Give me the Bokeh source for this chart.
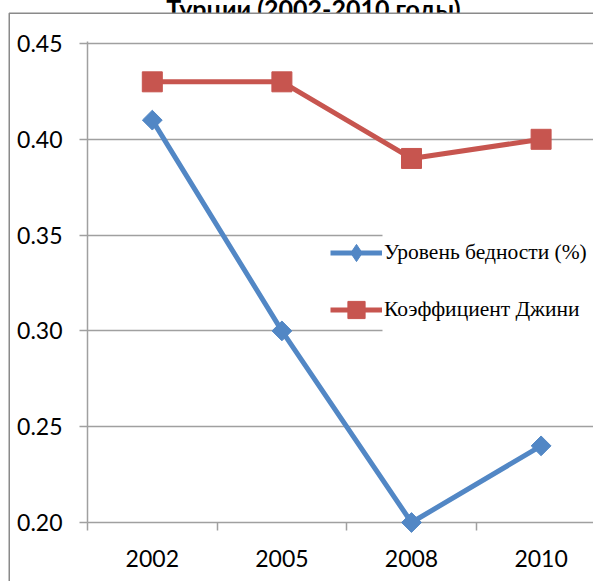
import math
from bokeh.plotting import figure
from bokeh.models import (FixedTicker, Legend, LegendItem, BoxAnnotation,
                          Range1d, ColumnDataSource)
from bokeh.core.properties import value
from bokeh.embed import file_html
from bokeh.resources import INLINE

# ---------------- data ----------------
years = ["2002", "2005", "2008", "2010"]
poverty = [0.41, 0.30, 0.20, 0.24]
gini = [0.43, 0.43, 0.39, 0.40]
y_ticks = [0.20, 0.25, 0.30, 0.35, 0.40, 0.45]
y_tick_labels = ["0.20", "0.25", "0.30", "0.35", "0.40", "0.45"]
series_names = ["Уровень бедности (%)", "Коэффициент Джини"]
title_text = "Турции (2002-2010 годы)"

# ---------------- layout (page pixels) ----------------
W, H = 585, 581
PAGE_X0 = 8            # figure left on the page
FRAME_L = 87           # y axis line (page x)
FRAME_T = 41           # frame top (page y)
Y_TOP = 43             # page y of 0.45
Y_BOT = 522            # page y of 0.20
CAT_W = 129.6          # width of one category
Y0, Y_TOP_VAL = y_ticks[0], y_ticks[-1]
PPU = (Y_BOT - Y_TOP) / (Y_TOP_VAL - Y0)
Y1 = Y_TOP_VAL + (Y_TOP - FRAME_T) / PPU
X_END = (W - (FRAME_L - PAGE_X0)) / CAT_W


def dx(px):
    return (px - FRAME_L) / CAT_W


def dy(py):
    return Y0 + (Y_BOT - py) / PPU


GRAY = "#a0a0a0"
BLUE = "#5287C5"
RED = "#C7554F"
TICK_FONT = "Lato"
LEGEND_FONT = "'Liberation Serif', 'Times New Roman', serif"

p = figure(width=W, height=H, output_backend="svg", toolbar_location=None,
           x_range=Range1d(0, X_END), y_range=Range1d(Y0, Y1),
           min_border_left=FRAME_L - PAGE_X0, min_border_right=0,
           min_border_top=FRAME_T, min_border_bottom=H - Y_BOT)
p.margin = (0, 0, 0, PAGE_X0)
p.background_fill_color = "white"
p.border_fill_color = "white"
p.outline_line_color = None

# grid
p.xgrid.visible = False
p.ygrid.ticker = FixedTicker(ticks=y_ticks)
p.ygrid.grid_line_color = GRAY
p.ygrid.grid_line_width = 1.5

# y axis
yax = p.yaxis[0]
yax.ticker = FixedTicker(ticks=y_ticks)
yax.major_label_overrides = {t: l for t, l in zip(y_ticks, y_tick_labels)}
yax.axis_line_color = GRAY
yax.axis_line_width = 1.5
yax.major_tick_line_color = GRAY
yax.major_tick_line_width = 1.5
yax.major_tick_out = 8
yax.major_tick_in = 0
yax.minor_tick_line_color = None
yax.major_label_standoff = 17
yax.major_label_text_font = TICK_FONT
yax.major_label_text_font_size = "23px"
yax.major_label_text_color = "black"

# x axis: labels at category centres, tick marks at category boundaries
xc = [i + 0.5 for i in range(len(years))]
xax = p.xaxis[0]
xax.ticker = FixedTicker(ticks=xc, minor_ticks=list(range(len(years) + 1)))
xax.major_label_overrides = {c: y for c, y in zip(xc, years)}
xax.axis_line_color = GRAY
xax.axis_line_width = 1.5
xax.major_tick_line_color = None
xax.major_tick_out = 0
xax.major_tick_in = 0
xax.minor_tick_line_color = GRAY
xax.minor_tick_line_width = 1.5
xax.minor_tick_out = 8
xax.minor_tick_in = 0
xax.major_label_standoff = 19
xax.major_label_text_font = TICK_FONT
xax.major_label_text_font_size = "23px"
xax.major_label_text_color = "black"

# title (only its last line is visible, cut at the top edge)
p.text(x=[dx(313)], y=[dy(7)], text=[title_text], text_align="center",
       text_baseline="alphabetic", text_font=value(TICK_FONT),
       text_font_style="bold", text_font_size="25px", text_color="black",
       level="overlay")

# white strip below the title, then the chart-area border (outside the frame)
p.quad(left=[dx(9.5)], right=[dx(800)], top=[dy(13.4)], bottom=[dy(26)],
       fill_color="white", line_color=None, level="overlay")
p.line(x=[dx(8.75), dx(8.75), dx(800)], y=[dy(800), dy(12.75), dy(12.75)],
       line_color="#8a8a8a", line_width=1.5, level="overlay")

# legend area hides the grid lines behind the labels
p.add_layout(BoxAnnotation(left=dx(382), right=dx(800), top=dy(225), bottom=dy(340),
                           fill_color="white", fill_alpha=1, line_color=None))

src_p = ColumnDataSource(dict(x=xc, y=poverty))
src_g = ColumnDataSource(dict(x=xc, y=gini))

lp = p.line("x", "y", source=src_p, line_color=BLUE, line_width=5, level="overlay")
sp = p.scatter("x", "y", source=src_p, marker="square", angle=math.pi / 4, size=14,
               fill_color=BLUE, line_color=BLUE, line_width=1, level="overlay")
lg = p.line("x", "y", source=src_g, line_color=RED, line_width=5, level="overlay")
sg = p.scatter("x", "y", source=src_g, marker="square", size=20,
               fill_color=RED, line_color=RED, line_width=1, level="overlay")
# legend-only marker for the poverty series (diamond, as in the legend)
nan = float("nan")
dummy = p.scatter(x=[nan], y=[nan], marker="diamond", size=10, fill_color=BLUE,
                  line_color=BLUE, line_width=1)

legend = Legend(items=[LegendItem(label=series_names[0], renderers=[lp, dummy]),
                       LegendItem(label=series_names[1], renderers=[lg, sg])],
                location=(330 - FRAME_L, Y_BOT - 330.5),
                orientation="vertical", padding=0, margin=0, spacing=14,
                glyph_width=52, glyph_height=43, label_height=20,
                label_standoff=2, border_line_color=None,
                background_fill_alpha=0,
                label_text_font=LEGEND_FONT, label_text_font_size="21.5px",
                label_text_color="black")
p.add_layout(legend, "center")

open("out.html", "w").write(file_html(p, INLINE))
